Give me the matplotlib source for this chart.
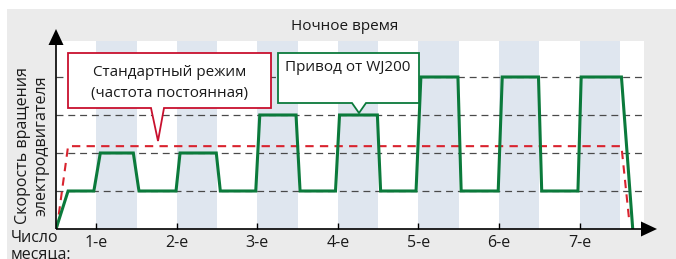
import matplotlib
matplotlib.use("Agg")
import matplotlib.pyplot as plt
from matplotlib.patches import Polygon, Rectangle

plt.rcParams['font.family'] = ['Open Sans', 'DejaVu Sans']
plt.rcParams['lines.scale_dashes'] = False

# ---- data ----
day_ticks = [1, 2, 3, 4, 5, 6, 7]
day_labels = ["1-е", "2-е", "3-е", "4-е", "5-е", "6-е", "7-е"]
night_start = [1, 2, 3, 4, 5, 6, 7]
night_len = 0.5
levels = [1, 2, 3, 4]

green_x = [0.5, 0.65, 0.97, 1.05, 1.46, 1.53, 1.99, 2.04, 2.49, 2.54, 2.98, 3.03,
           3.48, 3.53, 3.97, 4.02, 4.49, 4.53, 4.97, 5.03, 5.49, 5.53, 5.99, 6.04,
           6.49, 6.53, 6.98, 7.02, 7.52, 7.66]
green_y = [0, 1, 1, 2, 2, 1, 1, 2, 2, 1, 1, 3,
           3, 1, 1, 3, 3, 1, 1, 4, 4, 1, 1, 4,
           4, 1, 1, 4, 4, 0]
red_x = [0.51, 0.65, 7.52, 7.62]
red_y = [0, 2.18, 2.18, 0.15]

W, H = 676, 259
fig = plt.figure(figsize=(W / 100, H / 100), dpi=100)
fig.patch.set_facecolor('white')

def px(x, y):
    return (x / W, 1 - y / H)

# grey panel
fig.add_artist(Rectangle(px(7, 259), (W - 7) / W, (259 - 9) / H,
                         transform=fig.transFigure, facecolor='#ebebeb',
                         edgecolor='none', zorder=0))

left, right, top, bottom = 56, 644, 41, 229
ax = fig.add_axes([left / W, (H - bottom) / H, (right - left) / W, (bottom - top) / H])
ax.set_facecolor('white')
ax.set_xlim(0.5, 7.8)
ax.set_ylim(0, (bottom - top) / 38.0)
for s in ax.spines.values():
    s.set_visible(False)

for s0 in night_start:
    ax.axvspan(s0, s0 + night_len, color='#dfe6ef', zorder=1, lw=0)

for lv in levels:
    ax.axhline(lv, color='#4a4a4a', lw=0.9, dashes=(5, 3.5), zorder=2)

ax.plot(red_x, red_y, color='#d9232e', lw=1.5, dashes=(6, 4.5), zorder=3,
        solid_capstyle='butt')
ax.plot(green_x, green_y, color='#0b7a3b', lw=2.2, zorder=4,
        solid_joinstyle='miter')

ax.set_xticks(day_ticks)
ax.set_xticklabels(day_labels, fontsize=11.5, color='#1a1a1a')
ax.set_yticks([])
ax.tick_params(axis='x', direction='in', length=4, width=1, color='black', pad=4)

# axes lines with arrowheads
ax.plot([0, 0.995], [0, 0], transform=ax.transAxes, color='black', lw=1.2,
        clip_on=False, zorder=6, solid_capstyle='butt')
ax.plot([0, 0], [0, 0.985], transform=ax.transAxes, color='black', lw=1.2,
        clip_on=False, zorder=6, solid_capstyle='butt')
fig.add_artist(Polygon([px(48.5, 45), px(63.5, 45), px(56, 29)], closed=True,
                       transform=fig.transFigure, facecolor='black', edgecolor='none', zorder=7))
fig.add_artist(Polygon([px(641, 221.5), px(641, 236.5), px(657, 229)], closed=True,
                       transform=fig.transFigure, facecolor='black', edgecolor='none', zorder=7))

# labels
fig.text(*px(345, 26), "Ночное время", fontsize=11, ha='center', va='center', color='#1a1a1a')
fig.text(*px(23, 145), "Скорость вращения", fontsize=11.5, rotation=90,
         ha='center', va='center', color='#1a1a1a')
fig.text(*px(42, 146), "электродвигателя", fontsize=11.5, rotation=90,
         ha='center', va='center', color='#1a1a1a')
fig.text(*px(11, 238), "Число", fontsize=11.5, ha='left', va='center', color='#1a1a1a')
fig.text(*px(11, 254), "месяца:", fontsize=11.5, ha='left', va='center', color='#1a1a1a')

# red callout
red_box = [px(68, 53), px(271, 53), px(271, 108), px(164, 108), px(158, 141),
           px(151, 108), px(68, 108)]
fig.add_artist(Polygon(red_box, closed=True, transform=fig.transFigure,
                       facecolor='white', edgecolor='#c8102e', lw=1.3, zorder=8,
                       joinstyle='miter'))
fig.text(*px(169.5, 73), "Стандартный режим", fontsize=11, ha='center', va='center',
         color='#1a1a1a', zorder=9)
fig.text(*px(169.5, 93), "(частота постоянная)", fontsize=11, ha='center', va='center',
         color='#1a1a1a', zorder=9)

# green callout
green_box = [px(278, 53), px(419, 53), px(419, 103), px(366, 103), px(359, 113),
             px(352, 103), px(278, 103)]
fig.add_artist(Polygon(green_box, closed=True, transform=fig.transFigure,
                       facecolor='white', edgecolor='#0b7a3b', lw=1.3, zorder=8,
                       joinstyle='miter'))
fig.text(*px(348, 68), "Привод от WJ200", fontsize=11, ha='center', va='center',
         color='#1a1a1a', zorder=9)

fig.savefig("out.png", dpi=100, facecolor=fig.get_facecolor())
